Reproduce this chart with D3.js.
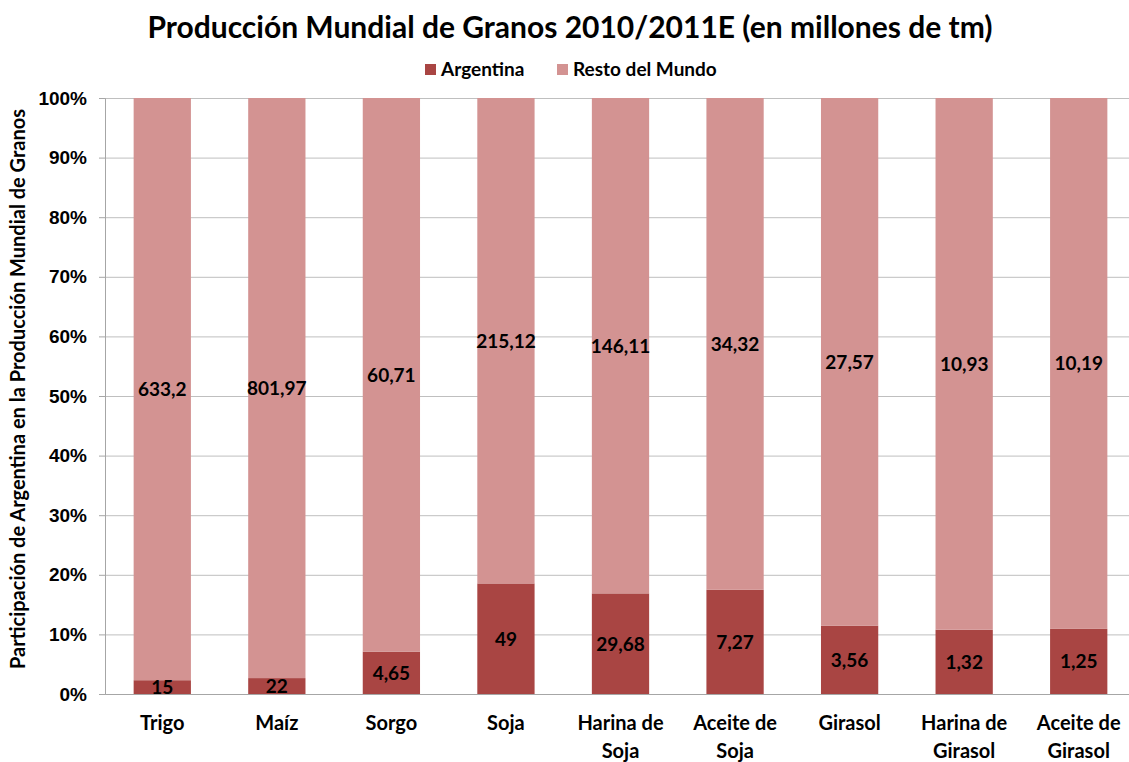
<!DOCTYPE html>
<html>
<head>
<meta charset="utf-8">
<script src="https://cdn.jsdelivr.net/npm/d3@7"></script>
<style>
  body { margin: 0; background: #fff; }
  svg { font-family: Lato, "Open Sans", sans-serif; font-weight: bold; }
  .grid line { stroke: #bfbfbf; }
  .axis path, .axis line { stroke: #a6a6a6; }
</style>
</head>
<body>
<div id="chart"></div>
<script>
var categories = ["Trigo", "Maíz", "Sorgo", "Soja", "Harina de Soja", "Aceite de Soja", "Girasol", "Harina de Girasol", "Aceite de Girasol"];
var tickLines = [["Trigo"], ["Maíz"], ["Sorgo"], ["Soja"], ["Harina de", "Soja"], ["Aceite de", "Soja"], ["Girasol"], ["Harina de", "Girasol"], ["Aceite de", "Girasol"]];
var argentina = [15, 22, 4.65, 49, 29.68, 7.27, 3.56, 1.32, 1.25];
var resto = [633.2, 801.97, 60.71, 215.12, 146.11, 34.32, 27.57, 10.93, 10.19];
var seriesNames = ["Argentina", "Resto del Mundo"];
var colors = ["#a94543", "#d39392"];

var width = 1129, height = 762;
var margin = {top: 98, right: -7, bottom: 68, left: 105};
var innerW = width - margin.left - margin.right,
    innerH = height - margin.top - margin.bottom;

var svg = d3.select("#chart").append("svg")
    .attr("width", width)
    .attr("height", height);

var fmt = function (v) { return String(v).replace(".", ","); };

var rows = categories.map(function (c, i) {
    return {cat: c, Argentina: argentina[i], "Resto del Mundo": resto[i]};
});
var stacked = d3.stack().keys(seriesNames).offset(d3.stackOffsetExpand)(rows);

var x = d3.scaleBand().domain(categories).range([0, innerW]).paddingInner(0.5).paddingOuter(0.25);
var y = d3.scaleLinear().domain([0, 1]).range([innerH, 0]);

var g = svg.append("g").attr("transform", "translate(" + margin.left + "," + margin.top + ")");

// grid lines
g.append("g").attr("class", "grid")
    .call(d3.axisLeft(y).ticks(10).tickSize(-innerW).tickFormat(""))
    .call(function (s) { s.select(".domain").remove(); });

// y axis
var yAxis = g.append("g").attr("class", "axis")
    .call(d3.axisLeft(y).ticks(10).tickSize(6).tickPadding(12).tickFormat(d3.format(".0%")));
yAxis.selectAll("text").attr("font-size", 19).attr("fill", "#000");

// bars
var layer = g.selectAll(".layer").data(stacked).enter().append("g")
    .attr("fill", function (d, i) { return colors[i]; });
layer.selectAll("rect").data(function (d) { return d; }).enter().append("rect")
    .attr("x", function (d) { return x(d.data.cat); })
    .attr("width", x.bandwidth())
    .attr("y", function (d) { return y(d[1]); })
    .attr("height", function (d) { return y(d[0]) - y(d[1]); });

// data labels
stacked.forEach(function (s) {
    g.append("g").selectAll("text").data(s).enter().append("text")
        .attr("x", function (d) { return x(d.data.cat) + x.bandwidth() / 2; })
        .attr("y", function (d) { return y((d[0] + d[1]) / 2); })
        .attr("dy", "0.36em")
        .attr("text-anchor", "middle")
        .attr("font-size", 19)
        .attr("fill", "#000")
        .text(function (d) { return fmt(d.data[s.key]); });
});

// x axis
g.append("g").attr("class", "axis")
    .attr("transform", "translate(0," + innerH + ")")
    .call(d3.axisBottom(x).tickSize(0).tickFormat(""));
var xl = g.append("g").selectAll("text").data(categories).enter().append("text")
    .attr("x", function (d) { return x(d) + x.bandwidth() / 2; })
    .attr("y", innerH + 36)
    .attr("text-anchor", "middle")
    .attr("font-size", 20)
    .attr("fill", "#000");
xl.each(function (d, i) {
    var t = d3.select(this);
    tickLines[i].forEach(function (line, j) {
        t.append("tspan").attr("x", x(d) + x.bandwidth() / 2).attr("dy", j ? 28 : 0).text(line);
    });
});

// title
svg.append("text")
    .attr("x", 570).attr("y", 38)
    .attr("text-anchor", "middle")
    .attr("font-size", 30)
    .text("Producción Mundial de Granos 2010/2011E (en millones de tm)");

// y axis title
svg.append("text")
    .attr("transform", "translate(25,389) rotate(-90)")
    .attr("text-anchor", "middle")
    .attr("font-size", 20)
    .text("Participación de Argentina en la Producción Mundial de Granos");

// legend
var legendX = [425, 557];
var lg = svg.append("g").selectAll("g").data(seriesNames).enter().append("g")
    .attr("transform", function (d, i) { return "translate(" + legendX[i] + ",69)"; });
lg.append("rect").attr("x", 0).attr("y", -5).attr("width", 11).attr("height", 11)
    .attr("fill", function (d, i) { return colors[i]; });
lg.append("text").attr("x", 16).attr("dy", "0.36em").attr("font-size", 19).text(function (d) { return d; });
</script>
</body>
</html>
